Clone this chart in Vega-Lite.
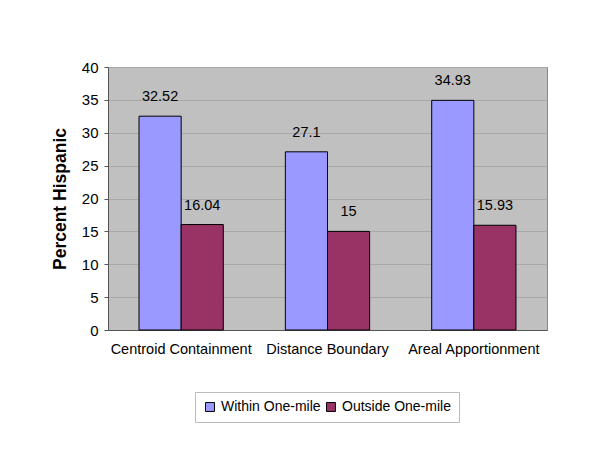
{
  "$schema": "https://vega.github.io/schema/vega-lite/v6.json",
  "width": 439,
  "height": 263,
  "autosize": {"type": "none"},
  "padding": {"left": 108, "top": 67, "right": 53, "bottom": 134},
  "background": "white",
  "data": {
    "values": [
      {"method": "Centroid Containment", "series": "Within One-mile", "value": 32.52},
      {"method": "Centroid Containment", "series": "Outside One-mile", "value": 16.04},
      {"method": "Distance Boundary", "series": "Within One-mile", "value": 27.1},
      {"method": "Distance Boundary", "series": "Outside One-mile", "value": 15},
      {"method": "Areal Apportionment", "series": "Within One-mile", "value": 34.93},
      {"method": "Areal Apportionment", "series": "Outside One-mile", "value": 15.93}
    ]
  },
  "encoding": {
    "x": {
      "field": "method",
      "type": "nominal",
      "sort": ["Centroid Containment", "Distance Boundary", "Areal Apportionment"],
      "scale": {"paddingInner": 0.424, "paddingOuter": 0.212},
      "axis": {
        "title": null,
        "labelAngle": 0,
        "labelFontSize": 14.5,
        "labelFont": "Liberation Sans",
        "labelColor": "black",
        "labelPadding": 12,
        "ticks": false,
        "domainColor": "#555555"
      }
    },
    "xOffset": {
      "field": "series",
      "type": "nominal",
      "sort": ["Within One-mile", "Outside One-mile"],
      "scale": {"paddingInner": 0, "paddingOuter": 0}
    },
    "y": {
      "field": "value",
      "type": "quantitative",
      "scale": {"domain": [0, 40], "nice": false},
      "axis": {
        "title": "Percent Hispanic",
        "titleFont": "Liberation Sans",
        "titleFontSize": 17.5,
        "titleFontWeight": "bold",
        "titleColor": "black",
        "titlePadding": 12,
        "values": [0, 5, 10, 15, 20, 25, 30, 35, 40],
        "labelFontSize": 15,
        "labelFont": "Liberation Sans",
        "labelColor": "black",
        "labelPadding": 6,
        "tickSize": 4,
        "tickColor": "#555555",
        "domainColor": "#555555",
        "gridColor": "#a8a8a8",
        "gridWidth": 1
      }
    }
  },
  "layer": [
    {
      "mark": {"type": "bar", "stroke": "black", "strokeWidth": 1},
      "encoding": {
        "color": {
          "field": "series",
          "type": "nominal",
          "sort": ["Within One-mile", "Outside One-mile"],
          "scale": {"domain": ["Within One-mile", "Outside One-mile"], "range": ["#9999FF", "#993366"]},
          "legend": {
            "title": null,
            "orient": "none",
            "legendX": 87,
            "legendY": 325,
            "direction": "horizontal",
            "labelFontSize": 14,
            "labelFont": "Liberation Sans",
            "labelColor": "black",
            "symbolType": "square",
            "symbolSize": 80,
            "symbolStrokeColor": "black",
            "symbolStrokeWidth": 1,
            "symbolOpacity": 1,
            "columnPadding": 3,
            "labelOffset": 4,
            "strokeColor": "#bbbbbb",
            "padding": 8
          }
        }
      }
    },
    {
      "mark": {"type": "text", "baseline": "bottom", "dy": -12, "fontSize": 14.5, "font": "Liberation Sans", "color": "black"},
      "encoding": {
        "text": {"field": "value", "type": "quantitative"}
      }
    }
  ],
  "config": {
    "view": {"fill": "#C0C0C0", "stroke": "#888888", "strokeWidth": 1}
  }
}
